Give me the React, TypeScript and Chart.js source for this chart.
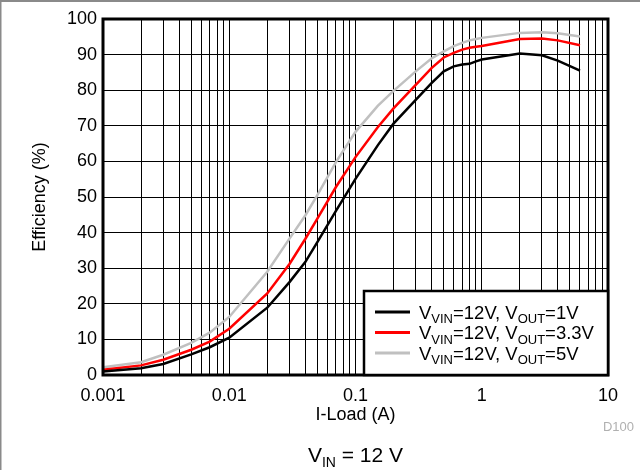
import React, { useEffect, useRef } from 'react';
import { Chart, registerables } from 'chart.js';

Chart.register(...registerables);

// ---- data ----
const loads = [0.001, 0.002, 0.003, 0.005, 0.007, 0.01, 0.02, 0.03, 0.04, 0.05, 0.07, 0.1, 0.15, 0.2, 0.3, 0.4, 0.5, 0.6, 0.7, 0.8, 0.9, 1, 2, 3, 4, 6];
const eff1V = [1.0, 1.9, 3.1, 5.8, 7.8, 10.5, 18.9, 26.1, 31.7, 37.4, 46.1, 55.1, 64.5, 70.6, 77.3, 82.0, 85.3, 86.7, 87.2, 87.4, 88.1, 88.6, 90.3, 89.8, 88.3, 85.5];
const eff3V3 = [1.5, 2.7, 4.3, 7.1, 9.4, 13.0, 22.9, 31.2, 38.2, 44.0, 52.8, 61.2, 69.6, 74.9, 81.5, 86.2, 89.2, 90.5, 91.4, 91.9, 92.2, 92.4, 94.4, 94.5, 94.0, 92.6];
const eff5V = [2.2, 3.6, 5.7, 9.0, 11.9, 16.3, 29.0, 38.3, 44.8, 50.6, 59.8, 68.3, 75.6, 79.8, 85.3, 88.9, 90.9, 92.4, 93.3, 94.0, 94.4, 94.7, 96.1, 96.3, 96.0, 95.1];

const seriesLabels = ['V_{VIN}=12V, V_{OUT}=1V', 'V_{VIN}=12V, V_{OUT}=3.3V', 'V_{VIN}=12V, V_{OUT}=5V'];
const seriesColors = ['#000000', '#ff0000', '#c0c0c0'];

const xDecades = [0.001, 0.01, 0.1, 1, 10];
const xDecadeLabels = ['0.001', '0.01', '0.1', '1', '10'];
const xMultipliers = [1, 2, 3, 4, 5, 6, 7, 8, 9];
const yMin = 0;
const yMax = 100;
const yStep = 10;

const xTitle = 'I-Load (A)';
const yTitle = 'Efficiency (%)';
const caption = 'V_{IN} = 12 V';
const figureId = 'D100';

const FONT = '"Liberation Sans", Arial, Helvetica, sans-serif';

type Seg = { text: string; sub: boolean };
function parseRich(s: string): Seg[] {
  const segs: Seg[] = [];
  const re = /_\{([^}]*)\}/g;
  let last = 0;
  let m: RegExpExecArray | null;
  while ((m = re.exec(s))) {
    if (m.index > last) segs.push({ text: s.slice(last, m.index), sub: false });
    segs.push({ text: m[1], sub: true });
    last = m.index + m[0].length;
  }
  if (last < s.length) segs.push({ text: s.slice(last), sub: false });
  return segs;
}

function drawRich(ctx: CanvasRenderingContext2D, s: string, x: number, y: number, size: number, subSize: number, align: 'left' | 'center', color: string) {
  const segs = parseRich(s);
  const widths = segs.map((g) => {
    ctx.font = `${g.sub ? subSize : size}px ${FONT}`;
    return ctx.measureText(g.text).width;
  });
  const total = widths.reduce((a, b) => a + b, 0);
  let cx = align === 'center' ? x - total / 2 : x;
  ctx.fillStyle = color;
  ctx.textAlign = 'left';
  ctx.textBaseline = 'alphabetic';
  segs.forEach((g, i) => {
    ctx.font = `${g.sub ? subSize : size}px ${FONT}`;
    ctx.fillText(g.text, cx, g.sub ? y + subSize * 0.35 : y);
    cx += widths[i];
  });
}

const xGridValues: number[] = [];
xDecades.slice(0, -1).forEach((d) => xMultipliers.forEach((m) => xGridValues.push(+(d * m).toPrecision(6))));
xGridValues.push(xDecades[xDecades.length - 1]);

const framePlugin = {
  id: 'frameAndLegend',
  beforeDraw(chart: any) {
    const ctx = chart.ctx as CanvasRenderingContext2D;
    ctx.save();
    ctx.fillStyle = '#ffffff';
    ctx.fillRect(0, 0, chart.width, chart.height);
    ctx.fillStyle = '#8a8a8a';
    ctx.fillRect(0, 0, chart.width, 2);
    ctx.fillRect(0, 0, 1.5, chart.height);
    ctx.restore();
  },
  afterDraw(chart: any) {
    const ctx = chart.ctx as CanvasRenderingContext2D;
    const a = chart.chartArea;
    ctx.save();
    // plot frame
    ctx.strokeStyle = '#000';
    ctx.lineWidth = 3;
    ctx.strokeRect(a.left, a.top, a.right - a.left, a.bottom - a.top);

    // legend box
    const lx = a.left + 261;
    const ly = a.top + 272;
    const lw = a.right - lx;
    const lh = a.bottom - ly;
    ctx.fillStyle = '#fff';
    ctx.fillRect(lx, ly, lw, lh);
    ctx.lineWidth = 2.5;
    ctx.strokeStyle = '#000';
    ctx.strokeRect(lx, ly, lw, lh);
    chart.data.datasets.forEach((ds: any, i: number) => {
      const yy = ly + 21 + i * 20.5;
      ctx.strokeStyle = ds.borderColor;
      ctx.lineWidth = 3;
      ctx.beginPath();
      ctx.moveTo(lx + 11, yy);
      ctx.lineTo(lx + 46, yy);
      ctx.stroke();
      drawRich(ctx, ds.label, lx + 55, yy + 6.5, 18.5, 13, 'left', '#000');
    });

    // caption
    drawRich(ctx, caption, (a.left + a.right) / 2, 462, 21, 14, 'center', '#000');

    // figure id
    ctx.font = `13px ${FONT}`;
    ctx.fillStyle = '#b0b0b0';
    ctx.textAlign = 'right';
    ctx.textBaseline = 'alphabetic';
    ctx.fillText(figureId, 634, 431);
    ctx.restore();
  },
};

export default function App() {
  const ref = useRef<HTMLCanvasElement | null>(null);
  useEffect(() => {
    document.body.style.margin = '0';
    const canvas = ref.current;
    if (!canvas) return;
    const datasets = [eff1V, eff3V3, eff5V].map((vals, i) => ({
      label: seriesLabels[i],
      data: loads.map((x, j) => ({ x, y: vals[j] })),
      borderColor: seriesColors[i],
      backgroundColor: seriesColors[i],
      borderWidth: 2.5,
      pointRadius: 0,
      tension: 0,
      fill: false,
    }));
    const chart = new Chart(canvas, {
      type: 'line',
      data: { datasets },
      plugins: [framePlugin],
      options: {
        animation: false,
        responsive: false,
        devicePixelRatio: 1,
        layout: { padding: { top: 19, right: 32, left: 0, bottom: 0 } },
        plugins: { legend: { display: false }, tooltip: { enabled: false }, title: { display: false } },
        scales: {
          x: {
            type: 'logarithmic',
            min: xDecades[0],
            max: xDecades[xDecades.length - 1],
            afterBuildTicks: (scale: any) => {
              scale.ticks = xGridValues.map((v) => ({ value: v }));
            },
            afterFit: (scale: any) => {
              scale.height = 95;
            },
            ticks: {
              autoSkip: false,
              maxRotation: 0,
              minRotation: 0,
              padding: 10,
              color: '#000',
              font: { family: FONT, size: 18 },
              callback: (v: any) => {
                const i = xDecades.findIndex((d) => Math.abs(d - Number(v)) / d < 1e-6);
                return i >= 0 ? xDecadeLabels[i] : '';
              },
            },
            grid: { color: '#000', lineWidth: 1, drawTicks: false },
            border: { display: false },
            title: { display: true, text: xTitle, color: '#000', font: { family: FONT, size: 18 }, padding: { top: 0, bottom: 44 } },
          },
          y: {
            type: 'linear',
            min: yMin,
            max: yMax,
            afterFit: (scale: any) => {
              scale.width = 103;
            },
            ticks: { stepSize: yStep, padding: 6, color: '#000', font: { family: FONT, size: 18 } },
            grid: { color: '#000', lineWidth: 1, drawTicks: false },
            border: { display: false },
            title: { display: true, text: yTitle, color: '#000', font: { family: FONT, size: 18 }, padding: { top: 29, bottom: 0 } },
          },
        },
      },
    });
    return () => chart.destroy();
  }, []);
  return (
    <div style={{ width: 640, height: 470, position: 'relative' }}>
      <canvas ref={ref} width={640} height={470} style={{ display: 'block' }} />
    </div>
  );
}
